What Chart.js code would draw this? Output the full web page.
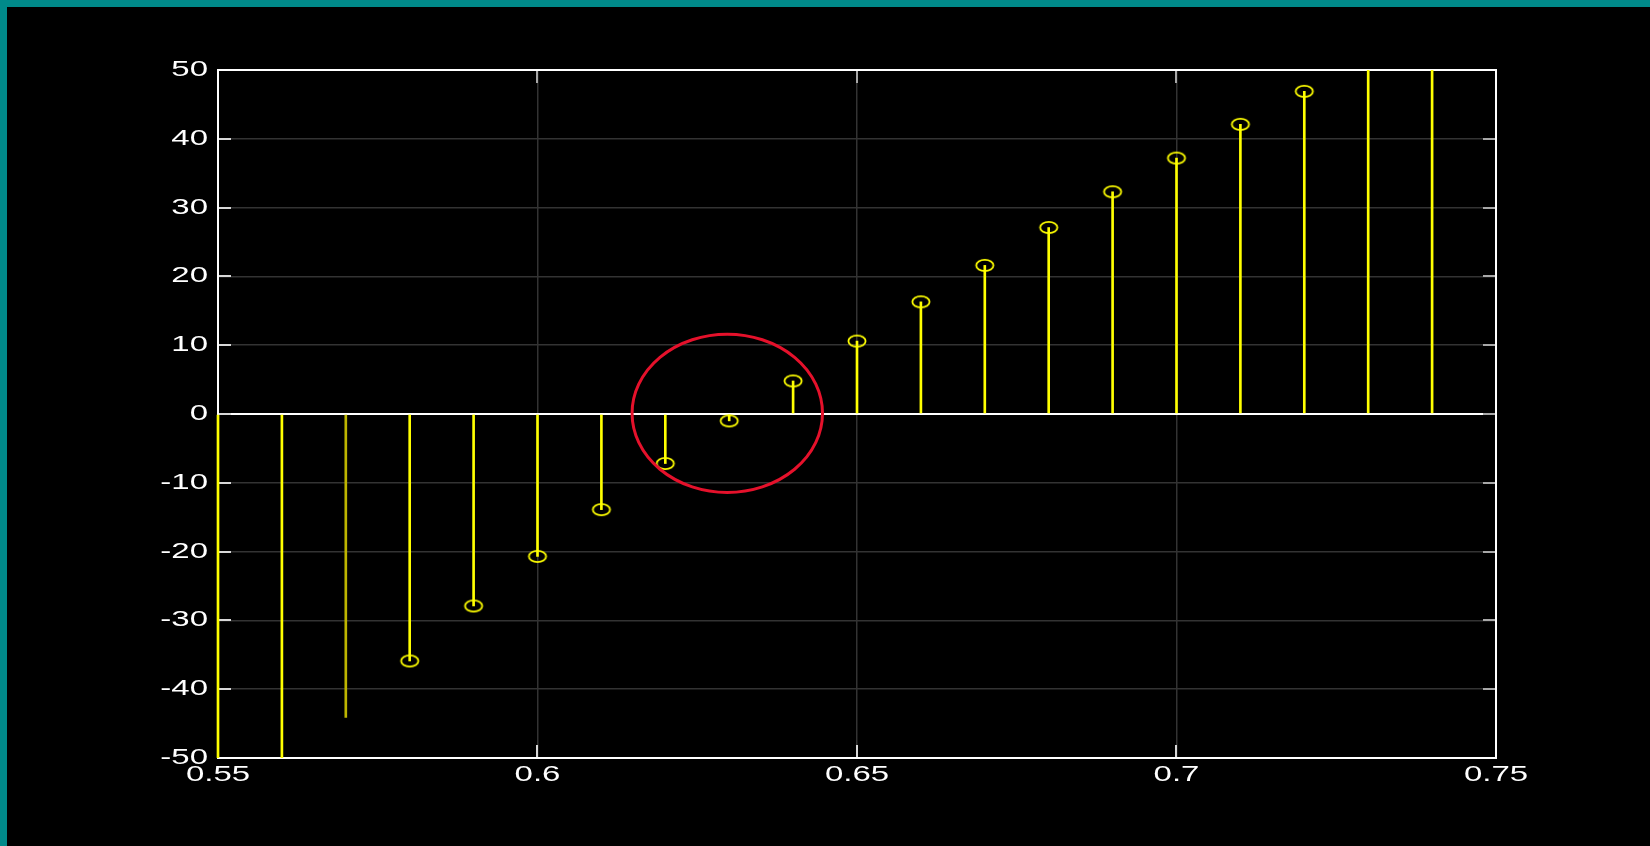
<!DOCTYPE html>
<html>
<head>
<meta charset="utf-8">
<script src="https://cdn.jsdelivr.net/npm/chart.js@4/dist/chart.umd.min.js"></script>
<style>
  html, body { margin: 0; padding: 0; width: 1650px; height: 846px; background: #008a8a; overflow: hidden; }
  #wrap { position: absolute; left: 7px; top: 7px; width: 1643px; height: 839px; background: #000; }
</style>
</head>
<body>
<div id="wrap"><canvas id="stem"></canvas></div>
<script>
// Sampled sequence: sample positions and values
const sampleX = [0.55, 0.56, 0.57, 0.58, 0.59, 0.60, 0.61, 0.62, 0.63, 0.64,
                 0.65, 0.66, 0.67, 0.68, 0.69, 0.70, 0.71, 0.72, 0.73, 0.74];
const sampleY = [-58.0, -51.5, -44.1, -35.9, -27.9, -20.7, -13.9, -7.2, -1.0, 4.8,
                 10.6, 16.3, 21.6, 27.1, 32.3, 37.2, 42.1, 46.9, 52.5, 57.8];
// which samples carry a circle marker at their tip
const hasMarker = [false, false, false, true, true, true, true, true, true, true,
                   true, true, true, true, true, true, true, true, false, false];

// Axis ticks
const xTickValues = [0.55, 0.6, 0.65, 0.7, 0.75];
const xTickLabels = ['0.55', '0.6', '0.65', '0.7', '0.75'];
const yTickValues = [-50, -40, -30, -20, -10, 0, 10, 20, 30, 40, 50];
const yTickLabels = ['-50', '-40', '-30', '-20', '-10', '0', '10', '20', '30', '40', '50'];

// Highlighted neighbourhood of the zero crossing (data units)
const highlight = { x: 0.6297, y: 0.1, rx: 0.0149, ry: 11.5 };

const FONT = '22px "Liberation Sans", Arial, sans-serif';
const STRETCH = 1.5;

// open elliptical marker
const marker = document.createElement('canvas');
marker.width = 22; marker.height = 15;
(() => {
  const m = marker.getContext('2d');
  m.strokeStyle = '#ffff00';
  m.lineWidth = 1.8;
  m.beginPath();
  m.ellipse(11, 7.5, 8.6, 5.6, 0, 0, Math.PI * 2);
  m.stroke();
})();

const framePlugin = {
  id: 'frame',
  beforeDatasetsDraw(chart) {
    const { ctx, chartArea: a, scales: { x, y } } = chart;
    ctx.save();
    ctx.lineWidth = 2;
    ctx.beginPath();
    yTickValues.forEach(v => {
      if (v === yTickValues[0] || v === yTickValues[yTickValues.length - 1]) return;
      const py = Math.round(y.getPixelForValue(v));
      ctx.moveTo(a.left, py); ctx.lineTo(a.left + 13, py);
    });
    xTickValues.forEach(v => {
      if (v === xTickValues[0] || v === xTickValues[xTickValues.length - 1]) return;
      const px = Math.round(x.getPixelForValue(v));
      ctx.moveTo(px, a.bottom); ctx.lineTo(px, a.bottom - 13);
    });
    ctx.strokeStyle = '#d8d8d8';
    ctx.stroke();
    ctx.beginPath();
    yTickValues.forEach(v => {
      if (v === yTickValues[0] || v === yTickValues[yTickValues.length - 1]) return;
      const py = Math.round(y.getPixelForValue(v));
      ctx.moveTo(a.right, py); ctx.lineTo(a.right - 13, py);
    });
    xTickValues.forEach(v => {
      if (v === xTickValues[0] || v === xTickValues[xTickValues.length - 1]) return;
      const px = Math.round(x.getPixelForValue(v));
      ctx.moveTo(px, a.top); ctx.lineTo(px, a.top + 13);
    });
    ctx.strokeStyle = '#a8a8a8';
    ctx.stroke();
    ctx.strokeStyle = '#ffffff';
    ctx.strokeRect(a.left, a.top, a.right - a.left, a.bottom - a.top);
    ctx.restore();
  }
};

const highlightPlugin = {
  id: 'highlight',
  afterDatasetsDraw(chart) {
    const { ctx, scales: { x, y } } = chart;
    const cx = x.getPixelForValue(highlight.x);
    const cy = y.getPixelForValue(highlight.y);
    const rx = Math.abs(x.getPixelForValue(highlight.x + highlight.rx) - cx);
    const ry = Math.abs(y.getPixelForValue(highlight.y + highlight.ry) - cy);
    ctx.save();
    ctx.strokeStyle = '#e5112b';
    ctx.lineWidth = 3;
    ctx.beginPath();
    ctx.ellipse(cx, cy, rx, ry, 0, 0, Math.PI * 2);
    ctx.stroke();
    ctx.restore();
  }
};

// Tick labels, drawn horizontally widened like the original figure's lettering
const labelPlugin = {
  id: 'wideLabels',
  afterDraw(chart) {
    const { ctx, chartArea: a, scales: { x, y } } = chart;
    ctx.save();
    ctx.fillStyle = '#ffffff';
    ctx.font = FONT;
    yTickValues.forEach((v, i) => {
      ctx.save();
      ctx.translate(a.left - 10, y.getPixelForValue(v));
      ctx.scale(STRETCH, 1);
      ctx.textAlign = 'right';
      ctx.textBaseline = 'middle';
      ctx.fillText(yTickLabels[i], 0, 0);
      ctx.restore();
    });
    xTickValues.forEach((v, i) => {
      ctx.save();
      ctx.translate(x.getPixelForValue(v), a.bottom + 6);
      ctx.scale(STRETCH, 1);
      ctx.textAlign = 'center';
      ctx.textBaseline = 'top';
      ctx.fillText(xTickLabels[i], 0, 0);
      ctx.restore();
    });
    ctx.restore();
  }
};

const stems = sampleX.map((x, i) => ({ x, y: sampleY[i] }));
const tips = sampleX.map((x, i) => ({ x, y: hasMarker[i] ? sampleY[i] : null }));

new Chart(document.getElementById('stem'), {
  type: 'bar',
  data: {
    datasets: [
      {
        type: 'bar',
        data: stems,
        barThickness: 2,
        borderWidth: 0,
        backgroundColor: c => (c.raw && c.raw.x === 0.57) ? '#bdb500' : '#ffff00',
        clip: { left: 2, right: 2, top: 0, bottom: 0 },
        order: 2
      },
      {
        type: 'scatter',
        data: tips,
        pointStyle: marker,
        pointRadius: 8,
        pointHoverRadius: 8,
        showLine: false,
        clip: 0,
        order: 1
      }
    ]
  },
  options: {
    responsive: true,
    maintainAspectRatio: false,
    animation: false,
    events: [],
    layout: { padding: { left: 0, top: 63, right: 154, bottom: 0 } },
    plugins: { legend: { display: false }, tooltip: { enabled: false } },
    scales: {
      x: {
        type: 'linear',
        min: 0.55,
        max: 0.75,
        offset: false,
        afterBuildTicks: s => { s.ticks = xTickValues.map(v => ({ value: v })); },
        afterFit: s => { s.height = 88; },
        ticks: { display: false },
        grid: { color: '#333333', lineWidth: 1.5, drawTicks: false, offset: false },
        border: { display: false }
      },
      y: {
        type: 'linear',
        min: -50,
        max: 50,
        afterBuildTicks: s => { s.ticks = yTickValues.map(v => ({ value: v })); },
        afterFit: s => { s.width = 211; },
        ticks: { display: false },
        grid: {
          color: c => (c.tick && c.tick.value === 0) ? '#ffffff' : '#333333',
          lineWidth: c => (c.tick && c.tick.value === 0) ? 2 : 1.5,
          drawTicks: false
        },
        border: { display: false }
      }
    }
  },
  plugins: [framePlugin, highlightPlugin, labelPlugin]
});
</script>
</body>
</html>
